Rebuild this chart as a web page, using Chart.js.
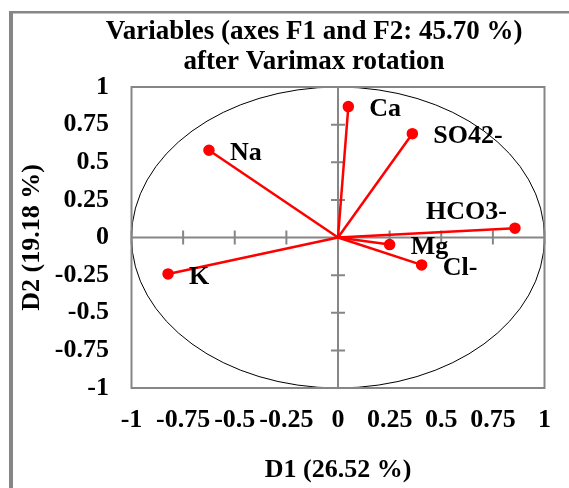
<!DOCTYPE html>
<html>
<head>
<meta charset="utf-8">
<script src="https://cdn.jsdelivr.net/npm/chart.js@4/dist/chart.umd.min.js"></script>
<style>
  html, body { margin: 0; padding: 0; background: #fff; }
  #wrap { width: 569px; height: 488px; position: relative; }
</style>
</head>
<body>
<div id="wrap"><canvas id="c" width="569" height="488"></canvas></div>
<script>
// ---- data ----
const variables = ['Ca', 'SO42-', 'Na', 'HCO3-', 'Mg', 'Cl-', 'K'];
const d1Values  = [0.05, 0.36, -0.625, 0.857, 0.25, 0.405, -0.823];
const d2Values  = [0.87, 0.69, 0.58, 0.062, -0.047, -0.182, -0.242];
const tickValues = [-1, -0.75, -0.5, -0.25, 0, 0.25, 0.5, 0.75, 1];
const tickLabels = ['-1', '-0.75', '-0.5', '-0.25', '0', '0.25', '0.5', '0.75', '1'];
const titleLines = ['Variables (axes F1 and F2: 45.70 %)', 'after Varimax rotation'];
const xTitle = 'D1 (26.52 %)';
const yTitle = 'D2 (19.18 %)';

const FONT = '"Liberation Serif", "Times New Roman", Times, serif';
const GRAY = '#868686';
const RED = '#ff0000';

const datasets = variables.map((name, i) => ({
  label: name,
  data: [{x: 0, y: 0}, {x: d1Values[i], y: d2Values[i]}],
  showLine: true,
  borderColor: RED,
  borderWidth: 2.5,
  backgroundColor: RED,
  pointBackgroundColor: RED,
  pointBorderColor: RED,
  pointRadius: [0, 4.5],
  pointHoverRadius: [0, 4.5],
  tension: 0
}));

const framePlugin = {
  id: 'frame',
  afterLayout(chart) {
    // centre the chart title over the outer frame (as in the original)
    const t = chart.titleBlock;
    if (t) { t.left = 83.5; t.right = chart.width - 24.5; }
  },
  beforeDraw(chart) {
    const ctx = chart.ctx;
    ctx.save();
    ctx.fillStyle = '#fff';
    ctx.fillRect(0, 0, chart.width, chart.height);
    ctx.fillStyle = GRAY;
    ctx.fillRect(9, 11, 4, chart.height);
    ctx.fillRect(9, 11, chart.width, 2.5);
    ctx.restore();
  },
  beforeDatasetsDraw(chart) {
    const ctx = chart.ctx;
    const a = chart.chartArea;
    const xs = chart.scales.x, ys = chart.scales.y;
    ctx.save();
    // unit circle
    const cx = xs.getPixelForValue(0), cy = ys.getPixelForValue(0);
    const rx = xs.getPixelForValue(1) - cx, ry = cy - ys.getPixelForValue(1);
    ctx.beginPath();
    ctx.ellipse(cx, cy, rx, ry, 0, 0, Math.PI * 2);
    ctx.strokeStyle = '#000';
    ctx.lineWidth = 1;
    ctx.stroke();
    // plot border
    ctx.strokeStyle = GRAY;
    ctx.lineWidth = 2;
    ctx.strokeRect(a.left, a.top, a.right - a.left, a.bottom - a.top);
    // zero axes
    ctx.beginPath();
    ctx.moveTo(a.left, cy); ctx.lineTo(a.right, cy);
    ctx.moveTo(cx, a.top); ctx.lineTo(cx, a.bottom);
    // tick marks on axes
    xs.ticks.forEach(t => {
      if (t.value === 0) return;
      const px = xs.getPixelForValue(t.value);
      ctx.moveTo(px, cy - 7); ctx.lineTo(px, cy + 7);
    });
    ys.ticks.forEach(t => {
      if (t.value === 0) return;
      const py = ys.getPixelForValue(t.value);
      ctx.moveTo(cx - 7, py); ctx.lineTo(cx + 7, py);
    });
    ctx.stroke();
    ctx.restore();
  },
  afterDatasetsDraw(chart) {
    const ctx = chart.ctx;
    ctx.save();
    ctx.font = 'bold 26px ' + FONT;
    ctx.fillStyle = '#000';
    ctx.textBaseline = 'middle';
    chart.data.datasets.forEach((ds, i) => {
      const meta = chart.getDatasetMeta(i);
      const pt = meta.data[1];
      if (ds.label === 'HCO3-') {
        ctx.textAlign = 'right';
        ctx.fillText(ds.label, pt.x - 8, pt.y - 16);
      } else {
        ctx.textAlign = 'left';
        ctx.fillText(ds.label, pt.x + 21, pt.y + 3);
      }
    });
    ctx.restore();
  }
};

const tickFont = {family: FONT, size: 26, weight: 'bold', lineHeight: 1.2};

new Chart(document.getElementById('c'), {
  type: 'scatter',
  data: { datasets },
  plugins: [framePlugin],
  options: {
    responsive: false,
    animation: false,
    devicePixelRatio: 1,
    layout: { padding: { left: 0, right: 24.5, top: 0, bottom: 0 } },
    plugins: {
      legend: { display: false },
      tooltip: { enabled: false },
      title: {
        display: true,
        text: titleLines,
        color: '#000',
        font: {family: FONT, size: 27, weight: 'bold', lineHeight: 30 / 27},
        padding: { top: 17.5, bottom: 9.5 }
      }
    },
    scales: {
      x: {
        type: 'linear',
        min: -1, max: 1,
        afterBuildTicks: s => { s.ticks = tickValues.map(v => ({value: v})); },
        afterFit: s => { s.height = 100; },
        grid: { display: false, drawTicks: false },
        border: { display: false },
        ticks: {
          autoSkip: false, maxRotation: 0, minRotation: 0,
          padding: 17,
          color: '#000',
          font: tickFont,
          callback: (v, i) => tickLabels[i]
        },
        title: {
          display: true, text: xTitle, color: '#000',
          font: tickFont,
          padding: { top: 0, bottom: 2.4 }
        }
      },
      y: {
        type: 'linear',
        min: -1, max: 1,
        afterBuildTicks: s => { s.ticks = tickValues.map(v => ({value: v})); },
        afterFit: s => { s.width = 131.5; },
        grid: { display: false, drawTicks: false },
        border: { display: false },
        ticks: {
          autoSkip: false,
          padding: 22.5,
          color: '#000',
          font: tickFont,
          callback: (v, i) => tickLabels[i]
        },
        title: {
          display: true, text: yTitle, color: '#000',
          font: tickFont,
          padding: { top: 16.4, bottom: 0 }
        }
      }
    }
  }
});
</script>
</body>
</html>
